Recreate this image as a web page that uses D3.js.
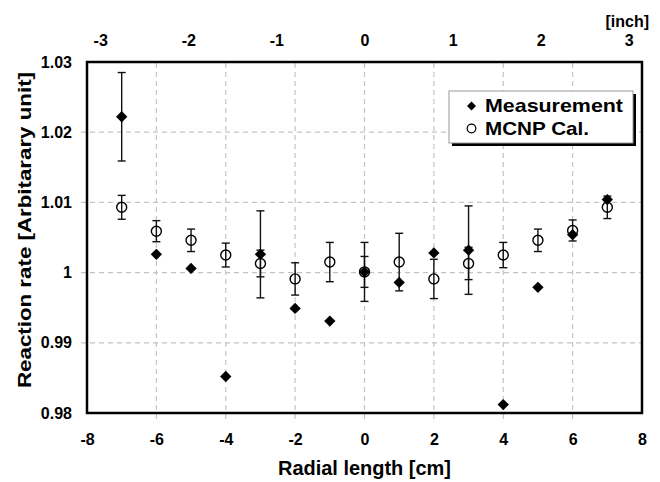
<!DOCTYPE html>
<html>
<head>
<meta charset="utf-8">
<script src="https://cdn.jsdelivr.net/npm/d3@7"></script>
<style>
  html, body { margin: 0; padding: 0; background: #fff; }
  svg { display: block; }
  text { font-family: "Liberation Sans", Arial, sans-serif; font-weight: bold; fill: #000; }
</style>
</head>
<body>
<svg id="chart" width="660" height="482"></svg>
<script>
// ---- data ----
const positions = [-7, -6, -5, -4, -3, -2, -1, 0, 1, 2, 3, 4, 5, 6, 7];
const measurement = [1.0222, 1.0026, 1.0006, 0.9852, 1.0026, 0.9949, 0.9931, 1.0001, 0.9986, 1.0028, 1.0032, 0.9812, 0.9979, 1.0054, 1.0104];
const measurementErr = [0.0063, 0, 0, 0, 0.0062, 0, 0, 0.0022, 0, 0, 0.0063, 0, 0, 0, 0];
const mcnp = [1.0093, 1.0059, 1.0046, 1.0025, 1.0013, 0.9991, 1.0015, 1.0001, 1.0015, 0.9991, 1.0013, 1.0025, 1.0046, 1.0060, 1.0093];
const mcnpErr = [0.0017, 0.0015, 0.0016, 0.0017, 0.0019, 0.0023, 0.0028, 0.0042, 0.0041, 0.0028, 0.0023, 0.0018, 0.0016, 0.0015, 0.0016];
const xTicks = [-8, -6, -4, -2, 0, 2, 4, 6, 8];
const yTicks = [0.98, 0.99, 1.00, 1.01, 1.02, 1.03];
const yTickLabels = ["0.98", "0.99", "1", "1.01", "1.02", "1.03"];
const inchTicks = [-3, -2, -1, 0, 1, 2, 3];
const seriesNames = ["Measurement", "MCNP Cal."];

const svg = d3.select("#chart");
const m = { left: 87, right: 18, top: 62, bottom: 69 };
const W = 660, H = 482;
const x = d3.scaleLinear().domain([-8, 8]).range([m.left, W - m.right]);
const y = d3.scaleLinear().domain([0.98, 1.03]).range([H - m.bottom, m.top]);
const xInch = d3.scaleLinear().domain([-8 / 2.54, 8 / 2.54]).range([m.left, W - m.right]);
const plain = d => String(d);

// custom diamond symbol (rhombus with half-width = half-height)
const rhombus = {
  draw(ctx, size) {
    const r = Math.sqrt(size / 2);
    ctx.moveTo(0, -r); ctx.lineTo(r, 0); ctx.lineTo(0, r); ctx.lineTo(-r, 0); ctx.closePath();
  }
};

// grid
const g = svg.append("g");
g.selectAll(".vg").data(xTicks.slice(1, -1)).enter().append("line")
  .attr("x1", d => x(d)).attr("x2", d => x(d))
  .attr("y1", y(0.98) + 6).attr("y2", y(1.03))
  .attr("stroke", "#c4c4c4").attr("stroke-width", 1.2).attr("stroke-dasharray", "5,4");
g.selectAll(".hg").data(yTicks.slice(1, -1)).enter().append("line")
  .attr("x1", x(-8) - 6).attr("x2", x(8))
  .attr("y1", d => y(d)).attr("y2", d => y(d))
  .attr("stroke", "#c4c4c4").attr("stroke-width", 1.2).attr("stroke-dasharray", "5,4");

// axes (labels only; frame drawn separately)
const xAxis = d3.axisBottom(x).tickValues(xTicks).tickSize(0).tickPadding(21).tickFormat(plain);
svg.append("g").attr("transform", `translate(0,${y(0.98)})`).call(xAxis)
  .call(a => a.select(".domain").remove())
  .selectAll("text").style("font-size", "16px").attr("fill", "#000");
const yAxis = d3.axisLeft(y).tickValues(yTicks).tickSize(0).tickPadding(15)
  .tickFormat((d, i) => yTickLabels[i]);
svg.append("g").attr("transform", `translate(${x(-8)},0)`).call(yAxis)
  .call(a => a.select(".domain").remove())
  .selectAll("text").style("font-size", "16px").attr("fill", "#000");
const topAxis = d3.axisTop(xInch).tickValues(inchTicks).tickSize(0).tickPadding(16).tickFormat(plain);
svg.append("g").attr("transform", `translate(0,${y(1.03)})`).call(topAxis)
  .call(a => a.select(".domain").remove())
  .selectAll("text").style("font-size", "16px").attr("fill", "#000");

// frame
svg.append("rect").attr("x", x(-8)).attr("y", y(1.03))
  .attr("width", x(8) - x(-8)).attr("height", y(0.98) - y(1.03))
  .attr("fill", "none").attr("stroke", "#000").attr("stroke-width", 2.5);

// titles
svg.append("text").attr("x", (x(-8) + x(8)) / 2).attr("y", 475)
  .attr("text-anchor", "middle").style("font-size", "20px")
  .attr("textLength", 173).attr("lengthAdjust", "spacingAndGlyphs")
  .text("Radial length [cm]");
svg.append("text").attr("transform", `translate(30.5,230) rotate(-90)`)
  .attr("text-anchor", "middle").style("font-size", "18px")
  .attr("textLength", 316).attr("lengthAdjust", "spacingAndGlyphs")
  .text("Reaction rate [Arbitarary unit]");
svg.append("text").attr("x", 649).attr("y", 27).attr("text-anchor", "end")
  .style("font-size", "16px").text("[inch]");

// error bars
function errBars(vals, errs, cls) {
  const data = positions.map((p, i) => ({ p, v: vals[i], e: errs[i] })).filter(d => d.e > 0);
  const eg = svg.append("g").attr("class", cls).attr("stroke", "#111").attr("stroke-width", 1.4);
  data.forEach(d => {
    eg.append("line").attr("x1", x(d.p)).attr("x2", x(d.p)).attr("y1", y(d.v - d.e)).attr("y2", y(d.v + d.e));
    [d.v - d.e, d.v + d.e].forEach(t => {
      eg.append("line").attr("x1", x(d.p) - 4).attr("x2", x(d.p) + 4).attr("y1", y(t)).attr("y2", y(t));
    });
  });
}
errBars(mcnp, mcnpErr, "mcnp-err");
errBars(measurement, measurementErr, "meas-err");

// markers
const diamond = d3.symbol().type(rhombus).size(64);
svg.append("g").selectAll("path.meas").data(positions).enter().append("path")
  .attr("class", "meas")
  .attr("transform", (d, i) => `translate(${x(d)},${y(measurement[i])})`)
  .attr("d", diamond).attr("fill", "#000");
svg.append("g").selectAll("circle.mcnp").data(positions).enter().append("circle")
  .attr("class", "mcnp")
  .attr("cx", d => x(d)).attr("cy", (d, i) => y(mcnp[i])).attr("r", 5)
  .attr("fill", "none").attr("stroke", "#000").attr("stroke-width", 1.4);

// legend
const lg = svg.append("g").attr("transform", "translate(449,91)");
lg.append("rect").attr("x", 3).attr("y", 3).attr("width", 184).attr("height", 52).attr("fill", "#000");
lg.append("rect").attr("x", 0).attr("y", 0).attr("width", 184).attr("height", 52)
  .attr("fill", "#fff").attr("stroke", "#999").attr("stroke-width", 1);
lg.append("path").attr("transform", "translate(22.5,15)").attr("d", d3.symbol().type(rhombus).size(40)).attr("fill", "#000");
lg.append("circle").attr("cx", 22.5).attr("cy", 37.5).attr("r", 4.3).attr("fill", "none").attr("stroke", "#000").attr("stroke-width", 1.3);
const legendWidths = [138, 104];
lg.selectAll("text.lt").data(seriesNames).enter().append("text")
  .attr("x", 36).attr("y", (d, i) => 21 + i * 22.5).style("font-size", "19px")
  .attr("textLength", (d, i) => legendWidths[i]).attr("lengthAdjust", "spacingAndGlyphs")
  .text(d => d);
</script>
</body>
</html>
